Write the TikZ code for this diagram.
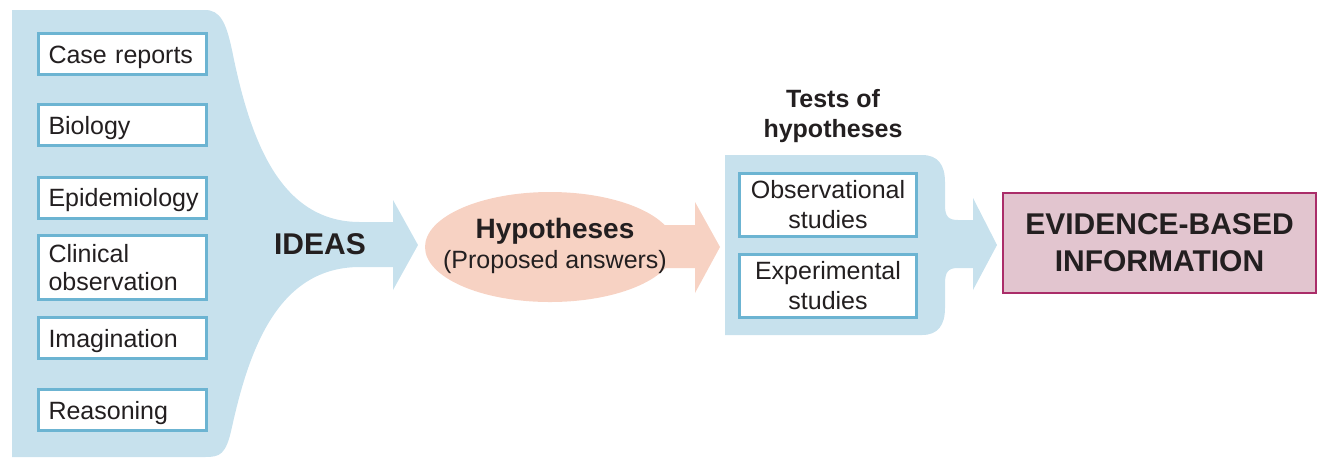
\documentclass[tikz,border=0pt]{standalone}
\usepackage{fontspec}
\setmainfont{Liberation Sans}
\usetikzlibrary{shapes.geometric, positioning, calc}

\definecolor{ideablue}{RGB}{199,225,237}
\definecolor{boxblue}{RGB}{108,180,210}
\definecolor{hyppeach}{RGB}{247,210,195}
\definecolor{evidpink}{RGB}{226,197,207}
\definecolor{evidrim}{RGB}{170,45,105}
\definecolor{inkdark}{RGB}{35,31,32}

\tikzset{
  srcbox/.style={draw=boxblue, line width=1.5pt, fill=white, text=inkdark,
    text width=74pt, inner xsep=5pt, inner ysep=0pt, minimum height=20.5pt,
    align=left, font=\fontsize{12.5}{14}\selectfont},
  onerow/.style={text height=9pt, text depth=0pt},
  testbox/.style={draw=boxblue, line width=1.5pt, fill=white, text=inkdark,
    minimum width=88.5pt, minimum height=31.5pt, inner sep=0pt,
    align=center, font=\fontsize{12.5}{15}\selectfont},
  biglabel/.style={text=inkdark, font=\bfseries\fontsize{15}{18.5}\selectfont, align=center}
}

\begin{document}
\begin{tikzpicture}[x=0.5pt, y=-0.5pt]
\useasboundingbox (0,0) rectangle (1328,468);

% Ideas panel with arrow
\fill[ideablue] (12,10) -- (205,10) .. controls (220,10) and (226,22) .. (232,50)
  .. controls (250,140) and (280,222) .. (360,222) -- (393,222) -- (393,200)
  -- (418,245) -- (393,290) -- (393,267) -- (360,267)
  .. controls (280,267) and (250,345) .. (232,427)
  .. controls (226,455) and (220,457) .. (205,457) -- (12,457) -- cycle;

% Sources of ideas
\node[srcbox, onerow] (cases) at (122.5,54) {Case reports};
\node[srcbox, onerow] (bio) at (122.5,125) {Biology};
\node[srcbox, onerow] (epi) at (122.5,197.5) {Epidemiology};
\node[srcbox, minimum height=32pt] (clin) at (122.5,267.5) {Clinical\\observation};
\node[srcbox, onerow] (imag) at (122.5,338) {Imagination};
\node[srcbox, onerow] (reas) at (122.5,410) {Reasoning};
\node[biglabel, text height=10.8pt, text depth=0pt] (ideas) at (320,244) {IDEAS};

% Hypotheses
\fill[hyppeach] (640,225) -- (695,225) -- (695,202) -- (720,247) -- (695,293)
  -- (695,268) -- (640,268) -- cycle;
\fill[hyppeach] (550,247) ellipse [x radius=62.5pt, y radius=27.5pt];
\node[text=inkdark, align=center, inner sep=0pt,
  font=\fontsize{12.5}{15}\selectfont] (hyp) at (555,246)
  {{\bfseries\fontsize{14}{15}\selectfont Hypotheses}\\(Proposed answers)};

% Tests of hypotheses
\node[text=inkdark, align=center, font=\bfseries\fontsize{12.5}{15}\selectfont] (tests)
  at (833,116) {Tests of\\hypotheses};
\fill[ideablue] (725,155) -- (922,155) .. controls (938,155) and (945,165) .. (945,182)
  -- (945,205) .. controls (945,216) and (948,220) .. (958,220) -- (973,220) -- (973,198)
  -- (997,245) -- (973,290) -- (973,268) -- (958,268)
  .. controls (948,268) and (945,272) .. (945,284) -- (945,308)
  .. controls (945,325) and (938,335) .. (922,335) -- (725,335) -- cycle;
\node[testbox] (obs) at (828,205) {Observational\\studies};
\node[testbox] (exp) at (828,285.5) {Experimental\\studies};

% Evidence
\node[draw=evidrim, line width=0.8pt, fill=evidpink, minimum width=156.5pt,
  minimum height=50pt, inner sep=0pt, biglabel] (evid) at (1159.5,243)
  {EVIDENCE-BASED\\INFORMATION};
\end{tikzpicture}
\end{document}
